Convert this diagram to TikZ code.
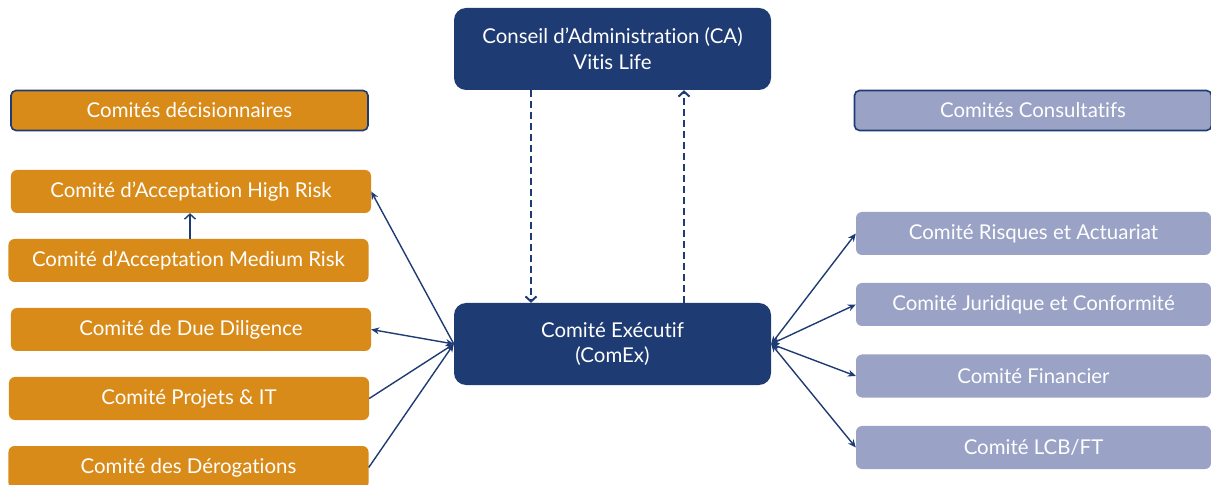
\documentclass[tikz,border=0pt]{standalone}
\usepackage{fontspec}
\setmainfont{Lato}[Ligatures={NoCommon,NoContextual}]
\usetikzlibrary{arrows.meta}

\definecolor{navy}{HTML}{1F3B73}
\definecolor{ochre}{HTML}{D98B1A}
\definecolor{lavender}{HTML}{9AA3C6}

\begin{document}
\begin{tikzpicture}[x=1bp, y=-1bp,
  every node/.style={text=white, align=center, font=\fontsize{20.5}{26}\selectfont},
  mainbox/.style={fill=navy, rounded corners=12bp, minimum width=317bp, minimum height=82bp},
  titlebox/.style={draw=navy, line width=1.6bp, rounded corners=5bp, minimum width=357bp, minimum height=40bp},
  decbox/.style={fill=ochre, rounded corners=6bp, minimum width=360bp, minimum height=43bp},
  conbox/.style={fill=lavender, rounded corners=6bp, minimum width=355bp, minimum height=43bp},
  link/.style={navy, line width=1.4bp},
  dashlink/.style={navy, line width=2bp, dash pattern=on 7bp off 4bp},
  barb/.style={-{Straight Barb[length=5bp, width=11bp]}},
  tip/.style={-{Stealth[length=8bp, width=7bp]}},
  twotip/.style={{Stealth[length=8bp, width=7bp]}-{Stealth[length=8bp, width=7bp]}}
]

  \clip (0,0) rectangle (1211,485);

  % Central boxes
  \node[mainbox] (ca) at (612.5,49) {Conseil d’Administration (CA)\\Vitis Life};
  \node[mainbox] (comex) at (612.5,344) {Comité Exécutif\\(ComEx)};

  % Headers
  \node[titlebox, fill=ochre] (dec) at (189.5,110.5) {Comités décisionnaires};
  \node[titlebox, fill=lavender] (con) at (1033,110.5) {Comités Consultatifs};

  % Decision committees
  \node[decbox] (high) at (191,191.5) {Comité d’Acceptation High Risk};
  \node[decbox] (medium) at (188.5,260.5) {Comité d’Acceptation Medium Risk};
  \node[decbox] (due) at (191,329.5) {Comité de Due Diligence};
  \node[decbox] (it) at (189,398.5) {Comité Projets \& IT};
  \node[decbox] (derog) at (188.5,467.5) {Comité des Dérogations};

  % Consultative committees
  \node[conbox] (risk) at (1033.5,233.5) {Comité Risques et Actuariat};
  \node[conbox] (legal) at (1033.5,304.5) {Comité Juridique et Conformité};
  \node[conbox] (fin) at (1033.5,376) {Comité Financier};
  \node[conbox] (aml) at (1033.5,447.5) {Comité LCB/FT};

  % CA <-> ComEx
  \draw[dashlink, barb] (ca.south -| 531,0) -- (comex.north -| 531,0);
  \draw[dashlink, barb] (comex.north -| 684,0) -- (ca.south -| 684,0);

  % Medium -> High
  \draw[link, barb] (medium.north -| 190,0) -- (high.south -| 190,0);

  % Left links
  \draw[link, tip] (comex.west) -- (high.east);
  \draw[link, twotip] (comex.west) -- (due.east);
  \draw[link, tip] (it.east) -- (comex.west);
  \draw[link, tip] (derog.east) -- (comex.west);

  % Right links
  \foreach \c in {risk, legal, fin, aml}
    \draw[link, twotip] (comex.east) -- (\c.west);

\end{tikzpicture}
\end{document}
